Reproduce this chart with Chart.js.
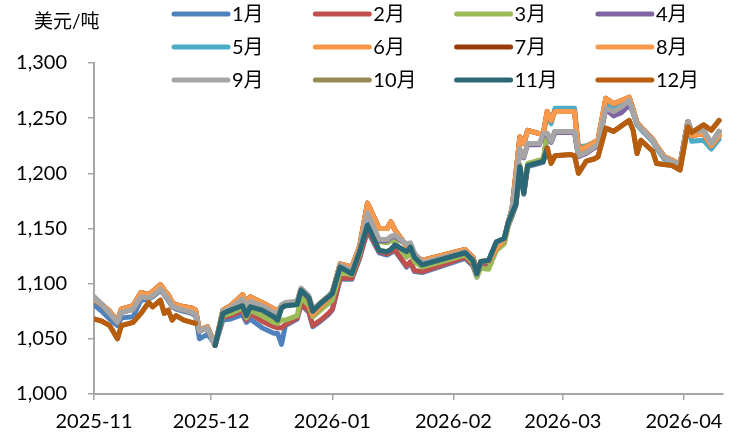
<!DOCTYPE html>
<html><head><meta charset="utf-8">
<script src="https://cdn.jsdelivr.net/npm/chart.js@4.4.1/dist/chart.umd.min.js"></script>
<style>html,body{margin:0;padding:0;background:#fff}canvas{display:block}</style>
</head><body>
<canvas id="c" width="739" height="436"></canvas>
<script>
// ---------- data ----------
const dates = ['2025-11-03','2025-11-05','2025-11-07','2025-11-09','2025-11-10','2025-11-13','2025-11-15','2025-11-17','2025-11-18','2025-11-20','2025-11-21','2025-11-22','2025-11-23','2025-11-24','2025-11-26','2025-11-28','2025-11-29',
'2025-11-30','2025-12-02','2025-12-03','2025-12-04',
'2025-12-06','2025-12-08','2025-12-11','2025-12-12','2025-12-13','2025-12-16','2025-12-19','2025-12-20','2025-12-21','2025-12-22','2025-12-25','2025-12-26','2025-12-28','2025-12-29','2025-12-31','2026-01-02','2026-01-03','2026-01-05','2026-01-08','2026-01-10','2026-01-12','2026-01-15','2026-01-17','2026-01-18','2026-01-19','2026-01-22','2026-01-23','2026-01-24','2026-01-26','2026-02-06','2026-02-08','2026-02-09','2026-02-10','2026-02-12','2026-02-14','2026-02-16','2026-02-17','2026-02-18','2026-02-19','2026-02-20','2026-02-21','2026-02-22','2026-02-25','2026-02-26','2026-02-27',
'2026-02-28','2026-03-01','2026-03-05','2026-03-06','2026-03-07','2026-03-09','2026-03-11','2026-03-12','2026-03-14','2026-03-16','2026-03-18','2026-03-20','2026-03-21','2026-03-22','2026-03-23','2026-03-26','2026-03-27','2026-03-29','2026-03-31','2026-04-02','2026-04-04','2026-04-05','2026-04-08','2026-04-10','2026-04-12'];

const axisStart = '2025-11-03';
const axisEnd = '2026-04-13';
const tickDates = ['2025-11-03','2025-12-03','2026-01-03','2026-02-03','2026-03-03','2026-04-03'];
const tickLabels = ['2025-11','2025-12','2026-01','2026-02','2026-03','2026-04'];
const yMin = 1000, yMax = 1300, yStep = 50;
const unitLabel = '美元/吨';
const seriesNames = ['1月','2月','3月','4月','5月','6月','7月','8月','9月','10月','11月','12月'];

const m01 = [1081,1075,1068,1062,1069,1070,1085,1086,1088,1094,1090,1085,1079,1077,1075,1073,1071,
1050,1054,1050,1044,
1067,1068,1072,1065,1068,1060,1055,1055,1045,1062,1068,1081,1074,1061,1066,1072,1076,1104,1104,1123,1148,1128,1126,1128,1130,1115,1119,1111,1110,1123,1116,1106,1116,1117,1134,1137,1152,1161,1171,1205,1181,1206,1209,1210,1236,
1229,1238,1238,1238,1216,1219,1224,1226,1259,1256,1260,1266,1256,1245,1241,1230,1224,1214,1211,1208,1247,1238,1239,1227,1238];

const m02 = [1088,1081,1073,1065,1074,1077,1088,1087,1089,1095,1091,1086,1080,1078,1076,1074,1072,
1057,1060,1052,1044,
1070,1071,1076,1067,1073,1066,1061,1060,1060,1063,1069,1082,1075,1062,1067,1073,1077,1105,1105,1124,1149,1129,1127,1129,1131,1116,1120,1112,1111,1124,1117,1107,1117,1118,1135,1138,1153,1162,1172,1206,1182,1207,1210,1211,1236,
1229,1238,1238,1238,1216,1219,1224,1226,1259,1256,1260,1266,1256,1245,1241,1230,1224,1214,1211,1208,1247,1238,1239,1227,1238];

const m03 = [1088,1081,1073,1065,1074,1077,1088,1087,1089,1095,1091,1086,1080,1078,1076,1074,1072,
1057,1060,1052,1044,
1071,1073,1078,1069,1076,1071,1065,1064,1067,1067,1071,1088,1080,1070,1076,1082,1085,1110,1108,1127,1157,1138,1137,1139,1138,1124,1128,1120,1115,1126,1119,1106,1114,1113,1130,1136,1152,1163,1174,1208,1184,1209,1212,1213,1236,
1229,1238,1238,1238,1216,1219,1224,1226,1259,1256,1260,1266,1256,1245,1241,1230,1224,1214,1211,1208,1247,1238,1239,1227,1238];

const m04 = [1088,1081,1073,1065,1074,1077,1088,1087,1089,1095,1091,1086,1080,1078,1076,1074,1072,
1057,1060,1052,1044,
1074,1077,1085,1079,1083,1079,1073,1072,1080,1082,1083,1095,1088,1076,1082,1088,1092,1116,1111,1130,1163,1139,1139,1142,1143,1135,1136,1127,1118,1128,1121,1109,1119,1120,1136,1140,1155,1167,1191,1221,1214,1226,1226,1235,1235,
1228,1237,1237,1237,1215,1218,1223,1225,1258,1252,1255,1262,1255,1244,1240,1229,1223,1213,1210,1207,1246,1237,1238,1226,1237];

const m05 = [1086,1081,1075,1066,1077,1080,1092,1090,1093,1099,1094,1090,1083,1081,1079,1078,1076,
1058,1061,1053,1044,
1076,1080,1090,1084,1088,1083,1077,1075,1080,1082,1083,1095,1086,1072,1079,1087,1092,1118,1115,1134,1173,1150,1150,1156,1149,1134,1132,1126,1121,1131,1124,1111,1120,1120,1132,1140,1155,1168,1200,1233,1227,1239,1236,1236,1252,
1245,1259,1259,1259,1224,1225,1228,1229,1262,1258,1261,1266,1255,1244,1240,1229,1223,1213,1210,1207,1245,1229,1230,1222,1231];

const m06 = [1086,1081,1075,1066,1077,1080,1092,1090,1093,1099,1094,1090,1083,1081,1079,1078,1076,
1058,1061,1053,1044,
1076,1080,1090,1084,1088,1083,1077,1075,1080,1082,1083,1095,1086,1072,1079,1087,1092,1118,1115,1134,1173,1150,1150,1156,1149,1134,1132,1126,1121,1131,1124,1111,1120,1120,1132,1140,1155,1168,1200,1233,1227,1239,1236,1236,1256,
1248,1256,1256,1256,1221,1224,1228,1230,1268,1263,1266,1269,1258,1246,1242,1231,1225,1215,1212,1208,1247,1234,1236,1225,1234];

const m07 = [1086,1081,1075,1066,1077,1080,1092,1090,1093,1099,1094,1090,1083,1081,1079,1078,1076,
1058,1061,1053,1044,
1076,1080,1090,1084,1088,1083,1077,1075,1080,1082,1083,1095,1086,1072,1079,1087,1092,1118,1115,1134,1173,1150,1150,1156,1149,1134,1132,1126,1121,1131,1124,1111,1120,1120,1132,1140,1155,1168,1200,1233,1227,1239,1236,1236,1256,
1248,1256,1256,1256,1221,1224,1228,1230,1268,1263,1266,1269,1258,1246,1242,1231,1225,1215,1212,1208,1247,1234,1236,1225,1234];

const m08 = [1086,1081,1075,1066,1077,1080,1092,1090,1093,1099,1094,1090,1083,1081,1079,1078,1076,
1058,1061,1053,1044,
1076,1080,1090,1084,1088,1083,1077,1075,1080,1082,1083,1095,1086,1072,1079,1087,1092,1118,1115,1134,1173,1150,1150,1156,1149,1134,1132,1126,1121,1131,1124,1111,1120,1120,1132,1140,1155,1168,1200,1233,1227,1239,1236,1236,1256,
1248,1256,1256,1256,1221,1224,1228,1230,1268,1263,1266,1269,1258,1246,1242,1231,1225,1215,1212,1208,1247,1234,1236,1225,1234];

const m09 = [1088,1081,1073,1065,1074,1077,1088,1087,1089,1095,1091,1086,1080,1078,1076,1074,1072,
1057,1060,1052,1044,
1075,1078,1086,1080,1084,1080,1074,1073,1081,1083,1084,1096,1089,1077,1083,1089,1093,1117,1112,1131,1164,1140,1140,1143,1144,1136,1137,1128,1119,1129,1122,1110,1120,1121,1137,1141,1156,1168,1192,1222,1215,1227,1227,1236,1236,
1229,1238,1238,1238,1216,1219,1224,1226,1259,1256,1260,1266,1256,1245,1241,1230,1224,1214,1211,1208,1247,1238,1239,1227,1238];

const m10 = [1068,1066,1062,1050,1062,1065,1073,1083,1079,1085,1073,1076,1067,1071,1067,1065,1064,
null,null,null,1044,
1073,1076,1080,1071,1079,1076,1070,1067,1078,1080,1081,1094,1087,1075,1082,1088,1091,1115,1109,1129,1153,1130,1129,1131,1135,1129,1133,1124,1117,1128,1121,1109,1120,1121,1138,1141,1155,1164,1172,1206,1182,1207,1210,1211,1223,
1209,1216,1217,1216,1200,1211,1213,1215,1241,1238,1243,1248,1239,1218,1230,1220,1209,1208,1207,1203,1242,1237,1244,1239,1248];

const m11 = [null,null,null,null,null,null,null,null,null,null,null,null,null,null,null,null,null,
null,null,null,1044,
1073,1076,1080,1071,1079,1076,1070,1067,1078,1080,1081,1094,1087,1075,1082,1088,1091,1115,1109,1129,1153,1130,1129,1131,1135,1129,1133,1124,1117,1128,1121,1109,1120,1121,1138,1141,1155,1164,1172,1206,1182,1207,1210,1211,1223,
null,null,null,null,null,null,null,null,null,null,null,null,null,null,null,null,null,null,null,null,null,null,null,null,null];

const m12 = [1068,1066,1062,1050,1062,1065,1073,1083,1079,1085,1073,1076,1067,1071,1067,1065,1064,
null,null,null,null,
null,null,null,null,null,null,null,null,null,null,null,null,null,null,null,null,null,null,null,null,null,null,null,null,null,null,null,null,null,null,null,null,null,null,null,null,null,null,null,null,null,null,null,null,1223,
1209,1216,1217,1216,1200,1211,1213,1215,1241,1238,1243,1248,1239,1218,1230,1220,1209,1208,1207,1203,1242,1237,1244,1239,1248];

const seriesValues = [m01,m02,m03,m04,m05,m06,m07,m08,m09,m10,m11,m12];

// ---------- styles ----------
const seriesColors = ['#4F81BD','#C0504D','#9BBB59','#8064A2','#4BACC6','#F79646','#9A3B0B','#F89A4E','#A5A5A5','#948A54','#2A6878','#B85C0D'];
const FONT = "Lato, 'Noto Sans CJK SC', sans-serif";
const AXIS = '#A6A6A6';

function dayOffset(s){
  const p = s.split('-').map(Number), b = axisStart.split('-').map(Number);
  return (Date.UTC(p[0],p[1]-1,p[2]) - Date.UTC(b[0],b[1]-1,b[2]))/86400000;
}

const datasets = seriesNames.map((name,i)=>({
  label: name,
  data: dates.map((d,j)=>({x: dayOffset(d), y: seriesValues[i][j]})),
  borderColor: seriesColors[i],
  backgroundColor: seriesColors[i],
  borderWidth: 5,
  pointRadius: 0,
  pointHoverRadius: 0,
  tension: 0,
  spanGaps: false,
  borderJoinStyle: 'round',
  borderCapStyle: 'round',
  order: seriesNames.length - i
}));

const extras = {
  id: 'extras',
  afterDraw(chart){
    const ctx = chart.ctx;
    ctx.save();
    ctx.font = "19px " + FONT;
    ctx.fillStyle = '#000';
    ctx.textBaseline = 'middle';
    ctx.textAlign = 'left';
    ctx.fillText(unitLabel, 34, 22);
    // legend grid 4 x 3
    ctx.font = "20px " + FONT;
    seriesNames.forEach((name,i)=>{
      const col = i % 4, row = Math.floor(i/4);
      const x0 = 174 + col*141.3, y0 = 14 + row*33;
      ctx.strokeStyle = seriesColors[i];
      ctx.lineWidth = 5;
      ctx.lineCap = 'round';
      ctx.beginPath(); ctx.moveTo(x0, y0); ctx.lineTo(x0+54, y0); ctx.stroke();
      ctx.fillStyle = '#000';
      ctx.fillText(name, x0+58, y0+1);
    });
    ctx.restore();
  }
};

new Chart(document.getElementById('c'), {
  type: 'line',
  data: { datasets },
  plugins: [extras],
  options: {
    responsive: false,
    animation: false,
    devicePixelRatio: 1,
    layout: { padding: { top: 63, right: 16, left: 0, bottom: 0 } },
    plugins: { legend: { display: false }, tooltip: { enabled: false } },
    scales: {
      x: {
        type: 'linear',
        min: 0,
        max: dayOffset(axisEnd),
        afterBuildTicks: s => { s.ticks = tickDates.map(d => ({ value: dayOffset(d) })); },
        afterFit: s => { s.height = 42; },
        ticks: { autoSkip: false, maxRotation: 0, minRotation: 0, padding: 10, color: '#000',
                 font: { family: FONT, size: 20 }, callback: (v, i) => tickLabels[i] },
        grid: { drawOnChartArea: false, drawTicks: true, tickLength: 6, color: AXIS, lineWidth: 1.5 },
        border: { color: AXIS, width: 2 }
      },
      y: {
        min: yMin, max: yMax,
        afterFit: s => { s.width = 94; },
        ticks: { stepSize: yStep, padding: 21, color: '#000', font: { family: FONT, size: 20 },
                 callback: v => v.toLocaleString('en-US') },
        grid: { drawOnChartArea: false, drawTicks: true, tickLength: 6, color: AXIS, lineWidth: 1.5 },
        border: { color: AXIS, width: 2 }
      }
    }
  }
});
</script>
</body></html>
